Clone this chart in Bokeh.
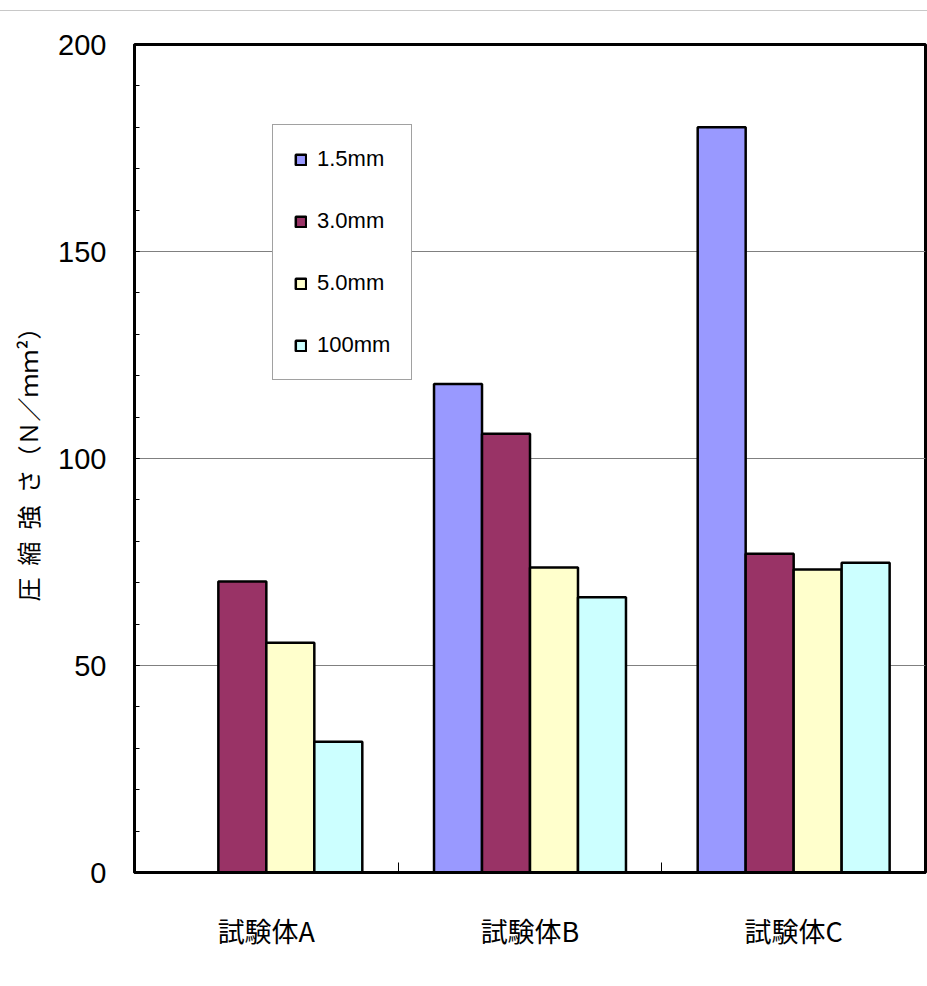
from bokeh.plotting import figure
from bokeh.models import (ColumnDataSource, Range1d, FixedTicker, SingleIntervalTicker,
                          Legend, LegendItem, Div)
from bokeh.layouts import column
from bokeh.transform import dodge
from bokeh.embed import file_html
from bokeh.resources import INLINE

nan = float("nan")

categories = ["試験体A", "試験体B", "試験体C"]
series = ["1.5mm", "3.0mm", "5.0mm", "100mm"]
v_15 = [nan, 118.0, 180.0]
v_30 = [70.3, 106.0, 77.0]
v_50 = [55.5, 73.7, 73.2]
v_100 = [31.6, 66.5, 74.8]
colors = ["#9999FF", "#993366", "#FFFFCC", "#CCFFFF"]
y_ticks_interval = 50
y_max = 200
S = "\u2002"
y_label = S.join(["圧", "縮", "強", "さ"]) + "（Ｎ／ｍｍ²）"

NUM_FONT = "'Liberation Sans Narrow', 'Liberation Sans', sans-serif"
CJK_FONT = "'Noto Sans CJK JP', sans-serif"

cat_pos = [i + 0.5 for i in range(len(categories))]
src = ColumnDataSource(dict(x=cat_pos, s0=v_15, s1=v_30, s2=v_50, s3=v_100))

top_rule = Div(text="", width=927, height=11, margin=0,
               styles={"border-bottom": "1px solid #c8c8c8", "box-sizing": "border-box"})

p = figure(width=927, height=975, output_backend="svg", toolbar_location=None,
           x_range=Range1d(0, len(categories)), y_range=Range1d(0, y_max),
           min_border_left=134, min_border_right=2, min_border_top=33, min_border_bottom=114,
           margin=0)

p.background_fill_color = "white"
p.border_fill_color = "white"
p.outline_line_color = "black"
p.outline_line_width = 3

bar_w = 0.182
offsets = [-1.5 * bar_w, -0.5 * bar_w, 0.5 * bar_w, 1.5 * bar_w]
items = []
for k, (name, col) in enumerate(zip(series, colors)):
    r = p.vbar(x=dodge("x", offsets[k], range=p.x_range), top="s%d" % k, width=bar_w,
               bottom=0, source=src, fill_color=col, line_color="black", line_width=2.5)
    items.append(LegendItem(label=name, renderers=[r]))

legend = Legend(items=items, location=(138, 492))
legend.label_text_font = NUM_FONT
legend.label_text_font_size = "22px"
legend.label_text_color = "black"
legend.glyph_width = 13
legend.glyph_height = 13
legend.label_height = 20
legend.label_standoff = 10
legend.spacing = 36
legend.padding = 21
legend.margin = 0
legend.border_line_color = "#444444"
legend.border_line_width = 1
legend.background_fill_alpha = 1
p.add_layout(legend)

# y axis
yax = p.yaxis[0]
yax.ticker = SingleIntervalTicker(interval=y_ticks_interval, num_minor_ticks=5)
yax.axis_line_width = 3
yax.axis_line_color = "black"
yax.major_tick_in = 5
yax.major_tick_out = 0
yax.minor_tick_in = 5
yax.minor_tick_out = 0
yax.major_tick_line_color = "black"
yax.minor_tick_line_color = "black"
yax.major_label_text_font = NUM_FONT
yax.major_label_text_font_size = "29px"
yax.major_label_text_color = "black"
yax.major_label_standoff = 28
yax.axis_label = y_label
yax.axis_label_text_font = CJK_FONT
yax.axis_label_text_font_size = "24px"
yax.axis_label_text_font_style = "normal"
yax.axis_label_text_color = "black"
yax.axis_label_standoff = 10

# x axis
xax = p.xaxis[0]
xax.ticker = FixedTicker(ticks=cat_pos, minor_ticks=[i for i in range(1, len(categories))])
xax.major_label_overrides = {pos: name for pos, name in zip(cat_pos, categories)}
xax.axis_line_width = 3
xax.axis_line_color = "black"
xax.major_tick_in = 0
xax.major_tick_out = 0
xax.minor_tick_in = 10
xax.minor_tick_out = 0
xax.minor_tick_line_color = "black"
xax.major_label_text_font = CJK_FONT
xax.major_label_text_font_size = "27px"
xax.major_label_text_color = "black"
xax.major_label_standoff = 38

p.xgrid.visible = False
p.ygrid.grid_line_color = "#808080"
p.ygrid.grid_line_width = 1

page = column(top_rule, p, spacing=0, margin=0)
open("out.html", "w").write(file_html(page, INLINE))
